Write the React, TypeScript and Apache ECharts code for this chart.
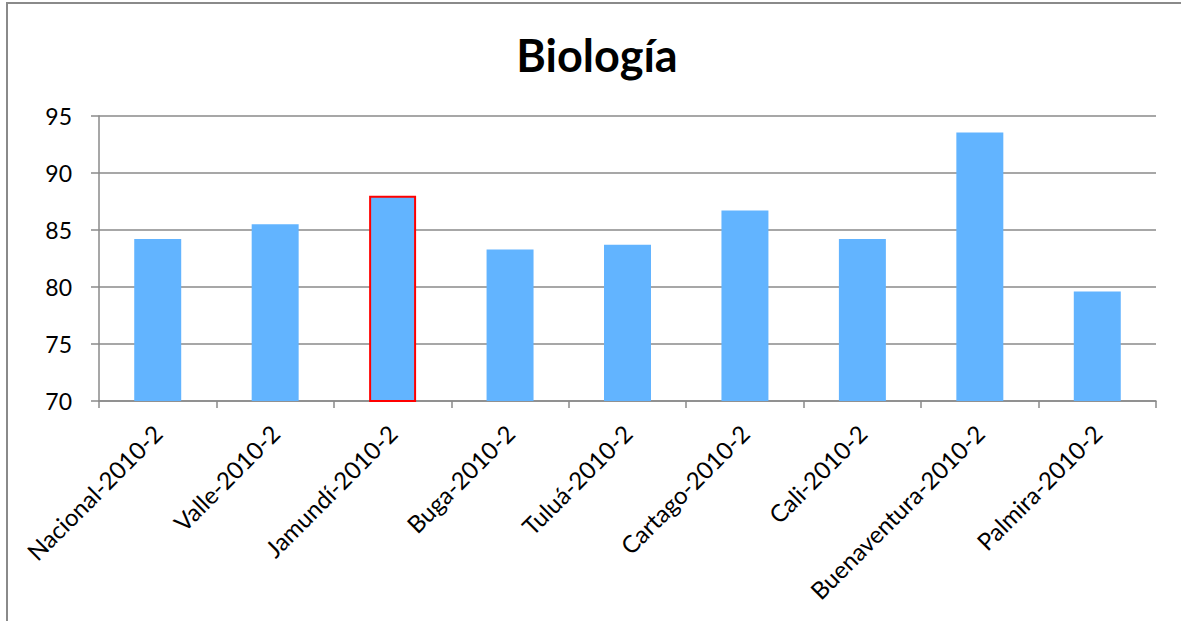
import React, { useEffect, useRef } from "react";
import * as echarts from "echarts";

const categories = [
  "Nacional-2010-2",
  "Valle-2010-2",
  "Jamundí-2010-2",
  "Buga-2010-2",
  "Tuluá-2010-2",
  "Cartago-2010-2",
  "Cali-2010-2",
  "Buenaventura-2010-2",
  "Palmira-2010-2",
];
const values = [84.2, 85.5, 88.0, 83.3, 83.7, 86.7, 84.2, 93.55, 79.6];
const highlighted = "Jamundí-2010-2";
const yTicks = [70, 75, 80, 85, 90, 95];

const FONT = "Lato";

export default function App() {
  const ref = useRef<HTMLDivElement>(null);
  useEffect(() => {
    if (!ref.current) return;
    const chart = echarts.init(ref.current, undefined, { renderer: "svg" });
    chart.setOption({
      animation: false,
      backgroundColor: "#ffffff",
      title: {
        text: "Biología",
        left: 592,
        textAlign: "center",
        top: 27,
        textStyle: { fontFamily: FONT, fontWeight: "bold", fontSize: 45, color: "#000" },
      },
      graphic: [
        {
          type: "rect",
          shape: { x: 7, y: 3, width: 1300, height: 800 },
          style: { fill: "none", stroke: "#8a8a8a", lineWidth: 2 },
          silent: true,
          z: 100,
        },
      ],
      grid: { left: 99, right: 25, top: 116, bottom: 220, containLabel: false },
      xAxis: {
        type: "category",
        data: categories,
        axisLine: { lineStyle: { color: "#8a8a8a", width: 1.5 } },
        axisTick: { show: true, alignWithLabel: false, length: 7, lineStyle: { color: "#8a8a8a", width: 1.5 } },
        axisLabel: {
          rotate: 45,
          margin: 28,
          interval: 0,
          fontFamily: FONT,
          fontSize: 24,
          color: "#000",
        },
      },
      yAxis: {
        type: "value",
        min: yTicks[0],
        max: yTicks[yTicks.length - 1],
        interval: 5,
        axisLine: { show: true, lineStyle: { color: "#8a8a8a", width: 1.5 } },
        axisTick: { show: true, length: 8, lineStyle: { color: "#8a8a8a", width: 1.5 } },
        splitLine: { lineStyle: { color: "#8a8a8a", width: 1.5 } },
        axisLabel: { margin: 27, fontFamily: FONT, fontSize: 23, color: "#000" },
      },
      series: [
        {
          type: "bar",
          barCategoryGap: "60%",
          data: categories.map((c, i) =>
            c === highlighted
              ? { value: values[i], itemStyle: { color: "#62B4FF", borderColor: "#ff0000", borderWidth: 2 } }
              : { value: values[i] }
          ),
          itemStyle: { color: "#62B4FF" },
        },
      ],
    });
    return () => chart.dispose();
  }, []);
  return (
    <div
      ref={ref}
      style={{ position: "fixed", left: 0, top: 0, width: 1181, height: 621 }}
    />
  );
}
